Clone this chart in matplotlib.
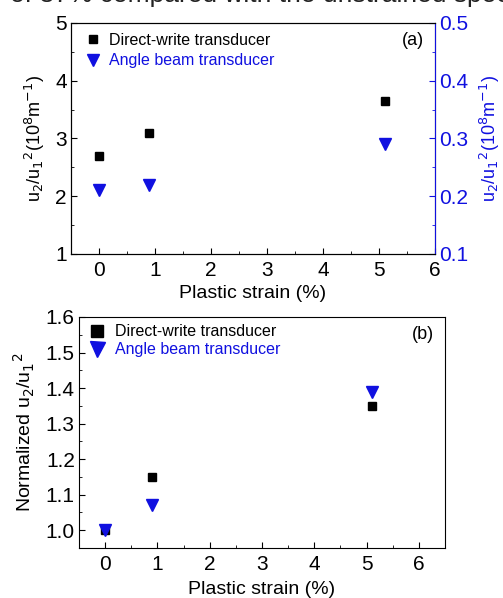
import matplotlib.pyplot as plt
from matplotlib.ticker import MultipleLocator

plt.rcParams['font.family'] = ['Liberation Sans', 'DejaVu Sans']

# data
strain = [0, 0.9, 5.1]
dw_abs = [2.7, 3.1, 3.65]          # direct-write, left axis (10^8 m^-1)
ab_abs = [0.21, 0.22, 0.29]        # angle beam, right axis (10^8 m^-1)
dw_norm = [1.0, 1.15, 1.35]
ab_norm = [1.0, 1.07, 1.39]

blue = '#1010e0'

fig = plt.figure(figsize=(5.03, 5.98), dpi=100)
W, H = 503, 598

def box(l, t, r, b):
    return [l / W, 1 - b / H, (r - l) / W, (b - t) / H]

# clipped caption line at very top
fig.text(0.5, 1.008, 'r of 37% compared with the unstrained spec', ha='center', va='center',
         fontsize=19, color='#222222')

# ---- panel (a)
ax = fig.add_axes(box(71, 23, 435, 254))
ax2 = ax.twinx()
ax.plot(strain, dw_abs, 's', color='black', ms=6, label='Direct-write transducer')
ax2.plot(strain, ab_abs, 'v', color=blue, ms=8, label='Angle beam transducer')
ax.set_xlim(-0.5, 6)
ax.set_ylim(1, 5)
ax2.set_ylim(0.1, 0.5)
ax.xaxis.set_major_locator(MultipleLocator(1))
ax.xaxis.set_minor_locator(MultipleLocator(0.5))
ax.yaxis.set_major_locator(MultipleLocator(1))
ax.yaxis.set_minor_locator(MultipleLocator(0.5))
ax2.yaxis.set_major_locator(MultipleLocator(0.1))
ax2.yaxis.set_minor_locator(MultipleLocator(0.05))
for a in (ax, ax2):
    a.tick_params(which='both', direction='in', labelsize=15)
    a.tick_params(which='major', length=4, pad=3)
    a.tick_params(which='minor', length=2.5)
ax.tick_params(axis='x', pad=5)
ax2.spines['right'].set_color(blue)
ax2.tick_params(axis='y', colors=blue, which='both')
ax.set_xlabel('Plastic strain (%)', fontsize=14, labelpad=4)
ax.set_ylabel(r'u$_2$/u$_1$$^2$(10$^8$m$^{-1}$)', fontsize=13, labelpad=6)
ax2.set_ylabel(r'u$_2$/u$_1$$^2$(10$^8$m$^{-1}$)', fontsize=13, color=blue, labelpad=7)
h1, l1 = ax.get_legend_handles_labels()
h2, l2 = ax2.get_legend_handles_labels()
leg = ax.legend(h1 + h2, l1 + l2, loc='upper left', frameon=False, fontsize=11.5,
                handletextpad=0.2, borderaxespad=0.2, labelspacing=0.35,
                handlelength=1.6)
leg.get_texts()[1].set_color(blue)
ax.text(0.97, 0.96, '(a)', transform=ax.transAxes, ha='right', va='top', fontsize=13)

# ---- panel (b)
bx = fig.add_axes(box(79, 317, 445, 548))
bx.plot(strain, dw_norm, 's', color='black', ms=6, label='Direct-write transducer')
bx.plot(strain, ab_norm, 'v', color=blue, ms=8, label='Angle beam transducer')
bx.set_xlim(-0.5, 6.5)
bx.set_ylim(0.95, 1.6)
bx.xaxis.set_major_locator(MultipleLocator(1))
bx.xaxis.set_minor_locator(MultipleLocator(0.5))
bx.yaxis.set_major_locator(MultipleLocator(0.1))
bx.yaxis.set_minor_locator(MultipleLocator(0.05))
bx.yaxis.set_major_formatter(plt.FormatStrFormatter('%.1f'))
bx.tick_params(which='both', direction='in', labelsize=15, right=False, top=False)
bx.tick_params(which='major', length=4, pad=3)
bx.tick_params(which='minor', length=2.5)
bx.tick_params(axis='x', pad=5)
bx.set_xlabel('Plastic strain (%)', fontsize=14, labelpad=5)
bx.set_ylabel(r'Normalized u$_2$/u$_1$$^2$', fontsize=14, labelpad=6)
leg = bx.legend(loc='upper left', frameon=False, fontsize=11.5, handletextpad=0.4,
                borderaxespad=0.05, labelspacing=0.2, markerscale=1.35,
                handlelength=1.4)
leg.get_texts()[1].set_color(blue)
bx.text(0.97, 0.96, '(b)', transform=bx.transAxes, ha='right', va='top', fontsize=13)

fig.savefig('out.png', dpi=100)
